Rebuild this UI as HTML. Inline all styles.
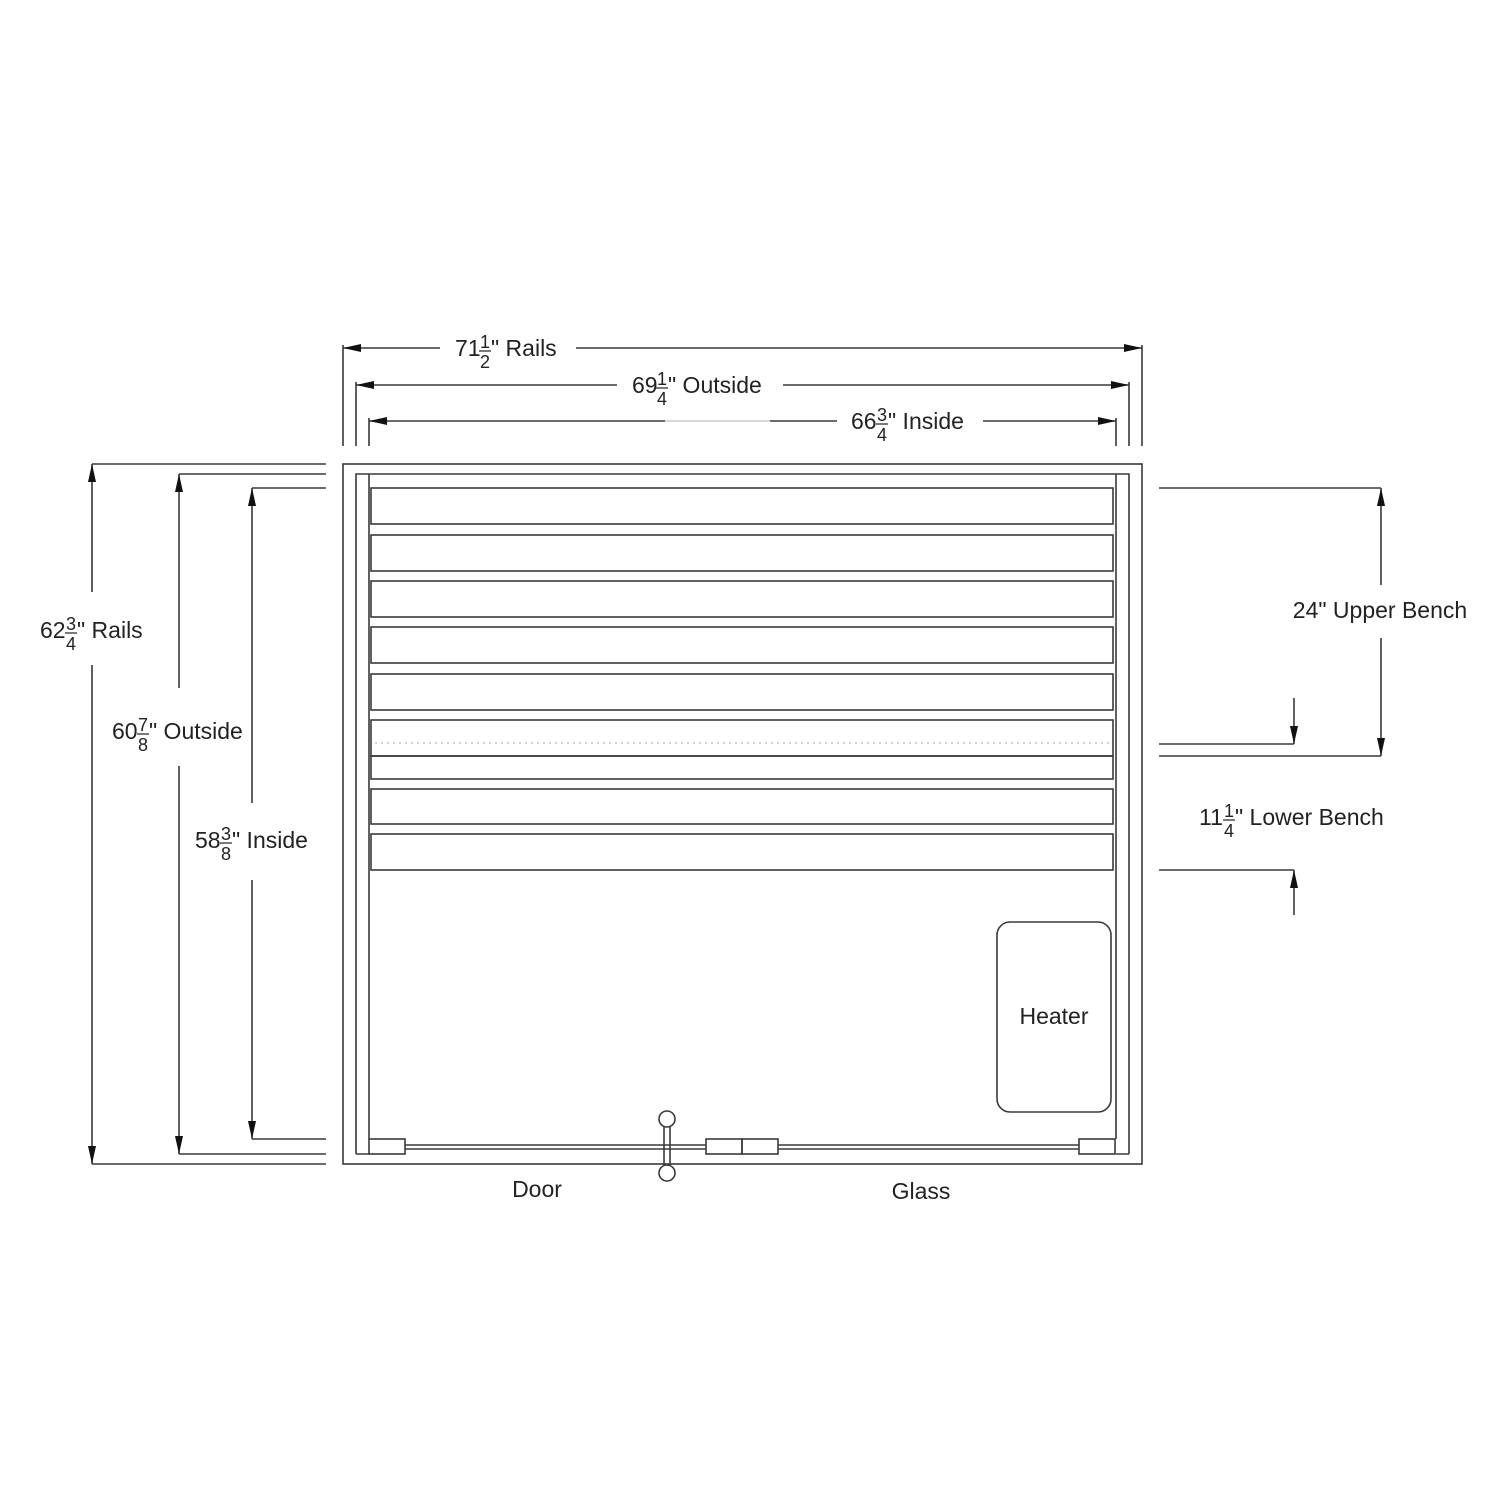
<!DOCTYPE html>
<html><head><style>html,body{margin:0;padding:0;background:#fff}svg{display:block}text{font-family:"Liberation Sans",Arial,sans-serif;fill:#222}</style></head><body>
<svg width="1500" height="1500" viewBox="0 0 1500 1500" xmlns="http://www.w3.org/2000/svg">
<defs>
<marker id="a" viewBox="0 0 18 8" refX="18" refY="4" markerWidth="18" markerHeight="8" markerUnits="userSpaceOnUse" orient="auto"><path d="M0,0 L18,4 L0,8 Z" fill="#111"/></marker>
</defs>
<g stroke="#3a3a3a" stroke-width="1.6" fill="none">
<rect x="343" y="464" width="799" height="700"/>
<path d="M356,1154 V474 H1129 V1154"/>
<path d="M369,474 V1139 M1116,474 V1139 M356,1154 H369 M1116,1154 H1129"/>
<rect x="371" y="488" width="742" height="36"/>
<rect x="371" y="535" width="742" height="36"/>
<rect x="371" y="581" width="742" height="36"/>
<rect x="371" y="627" width="742" height="36"/>
<rect x="371" y="674" width="742" height="36"/>
<rect x="371" y="720" width="742" height="36"/>
<rect x="371" y="756" width="742" height="23"/>
<rect x="371" y="789" width="742" height="35"/>
<rect x="371" y="834" width="742" height="36"/>
<path d="M375,743 H1110" stroke="#aaa" stroke-width="1" stroke-dasharray="2,4"/>
<rect x="997" y="922" width="114" height="190" rx="13"/>
<rect x="369" y="1139" width="36" height="15"/>
<rect x="706" y="1139" width="36" height="15"/>
<rect x="742" y="1139" width="36" height="15"/>
<rect x="1079" y="1139" width="36" height="15"/>
<path d="M405,1145 H706 M405,1149 H706 M778,1145 H1079 M778,1149 H1079"/>
<path d="M664,1127 V1165 M670,1127 V1165"/>
<circle cx="667" cy="1119" r="8" fill="#fff"/>
<circle cx="667" cy="1173" r="8" fill="#fff"/>
<path d="M343,345 V446 M356,382 V446 M369,418 V446 M1142,345 V446 M1129,382 V446 M1116,418 V446"/>
<path d="M440,348 H343" marker-end="url(#a)"/>
<path d="M576,348 H1142" marker-end="url(#a)"/>
<path d="M617,385 H356" marker-end="url(#a)"/>
<path d="M783,385 H1129" marker-end="url(#a)"/>
<path d="M665,421 H369" marker-end="url(#a)"/>
<path d="M665,421 H770" stroke="#ccc"/>
<path d="M770,421 H837"/>
<path d="M983,421 H1116" marker-end="url(#a)"/>
<path d="M92,464 H326 M92,1164 H326 M179,474 H326 M179,1154 H326 M252,488 H326 M252,1139 H326"/>
<path d="M92,592 V464" marker-end="url(#a)"/>
<path d="M92,665 V1164" marker-end="url(#a)"/>
<path d="M179,688 V474" marker-end="url(#a)"/>
<path d="M179,766 V1154" marker-end="url(#a)"/>
<path d="M252,803 V488" marker-end="url(#a)"/>
<path d="M252,880 V1139" marker-end="url(#a)"/>
<path d="M1159,488 H1381 M1159,756 H1381 M1159,744 H1294 M1159,870 H1294"/>
<path d="M1381,585 V488" marker-end="url(#a)"/>
<path d="M1381,638 V756" marker-end="url(#a)"/>
<path d="M1294,698 V744" marker-end="url(#a)"/>
<path d="M1294,915 V870" marker-end="url(#a)"/>
</g>
<g font-size="23">
<text x="455" y="356">71</text><text x="485" y="348" font-size="18" text-anchor="middle">1</text><text x="485" y="368" font-size="18" text-anchor="middle">2</text><line x1="479" y1="351" x2="491" y2="351" stroke="#222" stroke-width="1.2"/><text x="491" y="356">" Rails</text>
<text x="632" y="393">69</text><text x="662" y="385" font-size="18" text-anchor="middle">1</text><text x="662" y="405" font-size="18" text-anchor="middle">4</text><line x1="656" y1="388" x2="668" y2="388" stroke="#222" stroke-width="1.2"/><text x="668" y="393">" Outside</text>
<text x="851" y="429">66</text><text x="882" y="421" font-size="18" text-anchor="middle">3</text><text x="882" y="441" font-size="18" text-anchor="middle">4</text><line x1="876" y1="424" x2="888" y2="424" stroke="#222" stroke-width="1.2"/><text x="888" y="429">" Inside</text>
<text x="40" y="638">62</text><text x="71" y="630" font-size="18" text-anchor="middle">3</text><text x="71" y="650" font-size="18" text-anchor="middle">4</text><line x1="65" y1="633" x2="77" y2="633" stroke="#222" stroke-width="1.2"/><text x="77" y="638">" Rails</text>
<text x="112" y="739">60</text><text x="143" y="731" font-size="18" text-anchor="middle">7</text><text x="143" y="751" font-size="18" text-anchor="middle">8</text><line x1="137" y1="734" x2="149" y2="734" stroke="#222" stroke-width="1.2"/><text x="149" y="739">" Outside</text>
<text x="195" y="848">58</text><text x="226" y="840" font-size="18" text-anchor="middle">3</text><text x="226" y="860" font-size="18" text-anchor="middle">8</text><line x1="220" y1="843" x2="232" y2="843" stroke="#222" stroke-width="1.2"/><text x="232" y="848">" Inside</text>
<text x="1199" y="825">11</text><text x="1229" y="817" font-size="18" text-anchor="middle">1</text><text x="1229" y="837" font-size="18" text-anchor="middle">4</text><line x1="1223" y1="820" x2="1235" y2="820" stroke="#222" stroke-width="1.2"/><text x="1235" y="825">" Lower Bench</text>
<text x="1380" y="618" text-anchor="middle">24" Upper Bench</text>
<text x="1054" y="1024" text-anchor="middle">Heater</text>
<text x="537" y="1197" text-anchor="middle">Door</text>
<text x="921" y="1199" text-anchor="middle">Glass</text>
</g>
</svg>
</body></html>
